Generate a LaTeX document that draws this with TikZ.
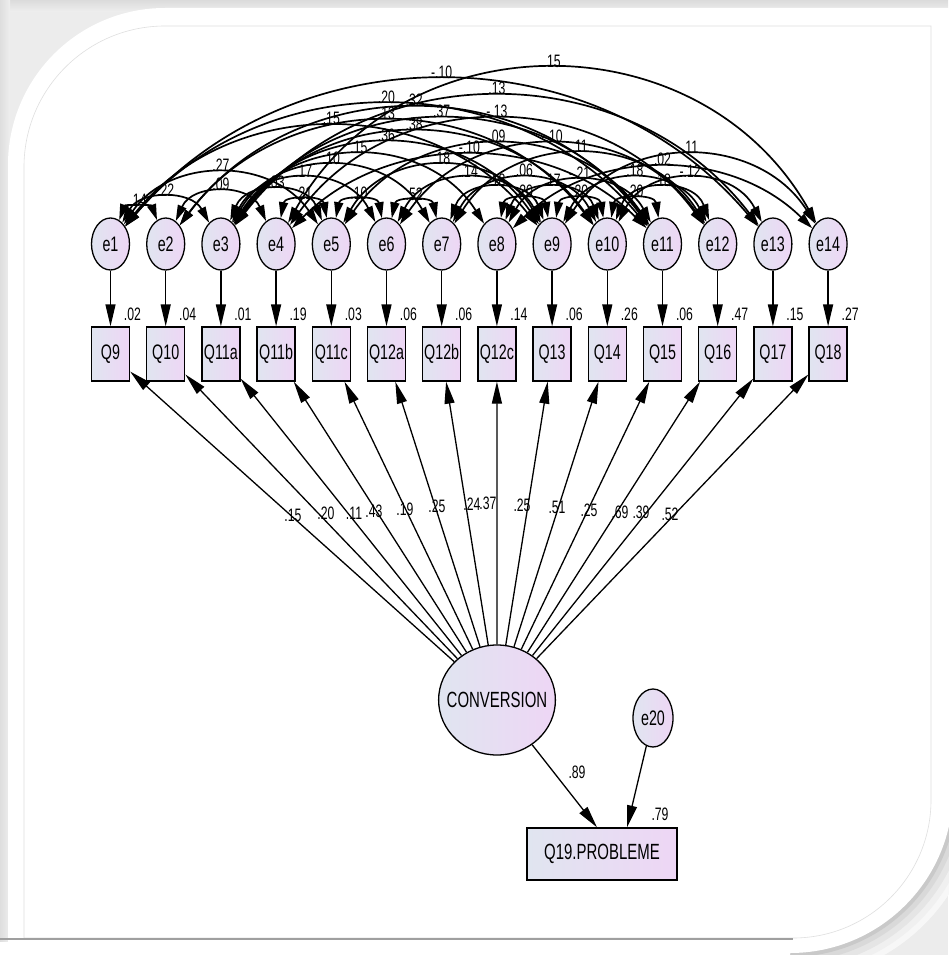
\documentclass[tikz,border=0pt]{standalone}
\usepackage{fontspec}
\setmainfont{Liberation Sans}[FakeStretch=0.68]
\usetikzlibrary{arrows.meta,shapes.geometric}

\definecolor{nodeL}{RGB}{224,229,240}
\definecolor{nodeR}{RGB}{238,214,245}

\tikzset{
  errnode/.style={ellipse, draw, line width=1.3pt, minimum width=38pt, minimum height=52pt,
    inner sep=0pt, left color=nodeL, right color=nodeR, font=\fontsize{21}{22}\selectfont},
  obsbox/.style={rectangle, draw, line width=1.3pt, minimum width=38pt, minimum height=54pt,
    inner sep=0pt, left color=nodeL, right color=nodeR, font=\fontsize{21}{22}\selectfont},
  bigvar/.style={ellipse, draw, line width=1.3pt, minimum width=116pt, minimum height=110pt,
    inner sep=-9pt, left color=nodeL, right color=nodeR, font=\fontsize{22}{24}\selectfont},
  bigbox/.style={rectangle, draw, line width=1.3pt, minimum width=150pt, minimum height=52pt,
    inner sep=0pt, left color=nodeL, right color=nodeR, font=\fontsize{22}{24}\selectfont},
  numlab/.style={inner sep=0pt, font=\fontsize{18}{19}\selectfont},
  covlab/.style={anchor=south, inner sep=1pt, font=\fontsize{18}{19}\selectfont},
  pathline/.style={line width=1.3pt, -{Triangle[length=22pt,width=10pt]}},
  covline/.style={line width=1.7pt,
    {Triangle[length=16pt,width=9pt]}-{Triangle[length=16pt,width=9pt]}},
}

% covariance arc between error terms #1 and #2; #3 = height of its label, #4 = estimate
\newcommand\covarc[4]{%
  \pgfmathsetmacro\cxa{110.5+55.2*(#1-1)}%
  \pgfmathsetmacro\cxb{110.5+55.2*(#2-1)}%
  \pgfmathsetmacro\cL{\cxb-\cxa}%
  \pgfmathsetmacro\ch{222-#3-6}%
  \pgfmathsetmacro\cdx{\cL/3-(4/3)*(\ch/\cL)*\ch}%
  \pgfmathsetmacro\cpa{\cxa+\cdx}%
  \pgfmathsetmacro\cpb{\cxb-\cdx}%
  \pgfmathsetmacro\cy{-222+4*\ch/3}%
  \draw[covline] (e#1) .. controls (\cpa,\cy) and (\cpb,\cy) .. node[covlab, pos=0.5]{#4} (e#2);%
}

\begin{document}
\begin{tikzpicture}[x=1pt,y=1pt]
\useasboundingbox (0,0) rectangle (948,-955);

% card with soft shadow
\fill[gray!15] (0,0) rectangle (948,-955);
\shade[top color=gray!28, bottom color=gray!13] (0,0) rectangle (948,-12);
\shade[left color=gray!26, right color=gray!13] (0,0) rectangle (10,-955);
\foreach \r/\c in {190/3,184/6,178/10,172/15,167/21}{
  \fill[black!\c!white] (790,-790) -- ++(12:\r) arc[start angle=12,end angle=-102,radius=\r] -- cycle;
}
\fill[white] (8,-950) -- (8,-165) arc[start angle=180,end angle=90,radius=157]
  -- (960,-8) -- (960,-790) -- (953,-790) arc[start angle=0,end angle=-90,radius=163]
  -- (790,-955) -- (8,-955) -- cycle;
\fill[white] (0,-942) rectangle (790,-955);
\draw[gray!25, line width=0.6pt] (24,-167) arc[start angle=180,end angle=90,radius=141]
  -- (931,-26) -- (931,-800) arc[start angle=0,end angle=-90,radius=138] -- (24,-938) -- cycle;
\draw[gray!75, line width=1.3pt] (0,-939) -- (793,-939);

% error terms and observed items
\foreach \k/\q in {1/Q9,2/Q10,3/Q11a,4/Q11b,5/Q11c,6/Q12a,7/Q12b,8/Q12c,9/Q13,10/Q14,11/Q15,12/Q16,13/Q17,14/Q18}{
  \pgfmathsetmacro\xk{110.5+55.2*(\k-1)}
  \node[errnode] (e\k) at (\xk,-244) {e\k};
  \node[obsbox] (q\k) at (\xk,-354) {\q};
}

% latent factor, outcome and its error
\node[bigvar] (conv) at (497,-700) {CONVERSION};
\node[errnode, minimum width=40pt, minimum height=58pt] (e20) at (653,-718) {e20};
\node[bigbox] (q19) at (602,-854) {Q19.PROBLEME};

% error -> item paths and squared multiple correlations
\foreach \k/\v in {1/.02,2/.04,3/.01,4/.19,5/.03,6/.06,7/.06,8/.14,9/.06,10/.26,11/.06,12/.47,13/.15,14/.27}{
  \draw[pathline] (e\k) -- (q\k);
  \pgfmathsetmacro\xv{110.5+55.2*(\k-1)+22}
  \node[numlab] (r\k) at (\xv,-314) {\v};
}

% loadings
\foreach \k in {1,...,14}{
  \draw[pathline] (conv) -- (q\k);
}
\foreach \n/\x/\y/\v in {1/293/515/.15,2/326/513/.20,3/354/513/.11,4/374/511/.43,5/405/509/.19,
  6/437/506/.25,7/472/504/.24,8/488/503/.37,9/522/505/.25,10/557/507/.51,11/589/510/.25,
  12/620/512/.69,13/641/512/.39,14/670/514/.52}{
  \node[numlab] (l\n) at (\x,-\y) {\v};
}

% structural path
\draw[pathline] (conv) -- ([xshift=-5pt]q19.north);
\draw[pathline] (e20) -- ([xshift=25pt]q19.north);
\node[numlab] (b19) at (577,-772) {.89};
\node[numlab] (r19) at (660,-814) {.79};

% error covariances
\covarc{1}{2}{203}{.14}
\covarc{1}{3}{192}{.22}
\covarc{2}{4}{187}{.09}
\covarc{1}{5}{167}{.27}
\covarc{3}{5}{185}{.03}
\covarc{3}{6}{173}{.17}
\covarc{4}{5}{196}{.21}
\covarc{3}{7}{160}{.10}
\covarc{1}{9}{120}{.15}
\covarc{3}{8}{149}{.15}
\covarc{5}{6}{196}{.10}
\covarc{1}{11}{98}{.20}
\covarc{2}{10}{115}{.13}
\covarc{3}{9}{137}{.36}
\covarc{2}{11}{102}{.32}
\covarc{3}{10}{126}{.38}
\covarc{6}{7}{197}{.52}
\covarc{1}{13}{73}{-.10}
\covarc{3}{11}{113}{.37}
\covarc{5}{9}{160}{.18}
\covarc{4}{11}{148}{-.10}
\covarc{6}{9}{173}{.14}
\covarc{3}{13}{90}{.13}
\covarc{4}{12}{113}{-.13}
\covarc{5}{11}{138}{.09}
\covarc{7}{9}{183}{.18}
\covarc{7}{10}{173}{.06}
\covarc{8}{9}{195}{.20}
\covarc{4}{14}{63}{.15}
\covarc{6}{12}{138}{-.10}
\covarc{8}{10}{183}{.17}
\covarc{7}{12}{148}{.11}
\covarc{8}{11}{175}{-.21}
\covarc{9}{10}{195}{.20}
\covarc{9}{12}{173}{.18}
\covarc{10}{11}{195}{.20}
\covarc{8}{14}{160}{.02}
\covarc{10}{12}{183}{.18}
\covarc{9}{14}{149}{.11}
\covarc{10}{13}{173}{-.12}
\end{tikzpicture}
\end{document}
